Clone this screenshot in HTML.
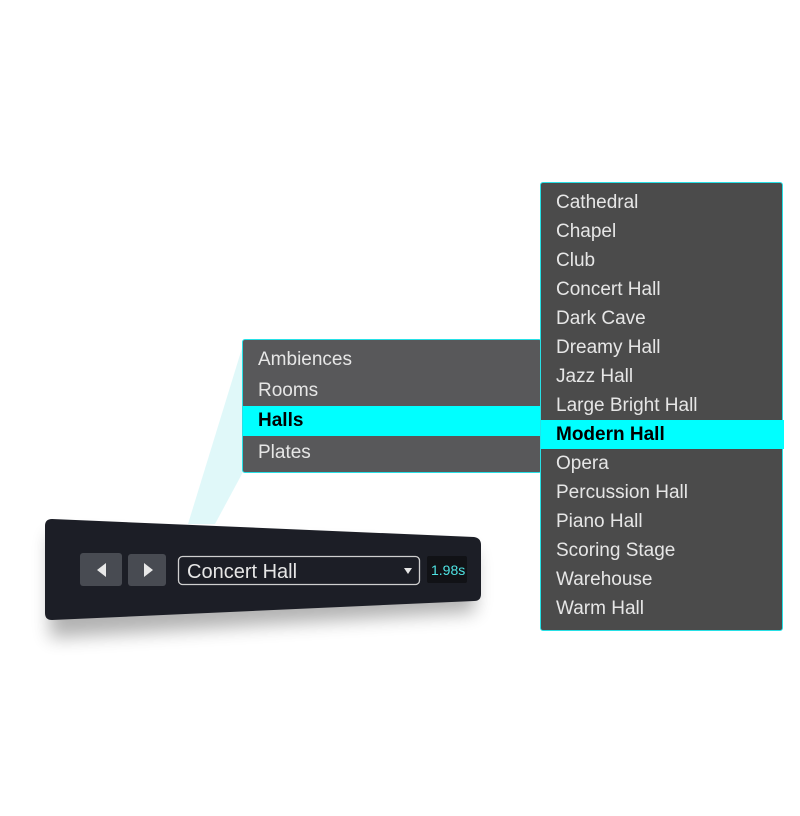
<!DOCTYPE html>
<html><head><style>
body{margin:0;width:800px;height:816px;background:#fff;position:relative;overflow:hidden;font-family:"Liberation Sans",sans-serif}
.m{position:absolute;background:#58585a;border:1.5px solid #27e0e6;border-radius:3px;box-sizing:border-box}
.r{position:absolute;left:0;right:0;color:#e6e6e6;font-size:19px;padding-left:15px;box-sizing:border-box}
.h{background:#00ffff;color:#000;font-weight:bold}
</style></head><body>
<svg width="800" height="816" style="position:absolute;left:0;top:0">
<defs><filter id="s" x="-20%" y="-30%" width="140%" height="180%"><feGaussianBlur stdDeviation="9"/></filter></defs>
<polygon points="243,345 243,472 215,524 188,524" fill="#d8f6f8" opacity="0.8"/>
<path d="M50,535 L475,552 L475,612 L50,638 Z" fill="#000" opacity="0.3" filter="url(#s)"/>
<path d="M52,519 L474,537 Q481,538 481,545 L481,594 Q481,601 474,601 L52,620 Q45,620 45,613 L45,526 Q45,519 52,519 Z" fill="#1c1e26"/>
<rect x="80" y="553" width="42" height="33" rx="3" fill="#484b52"/>
<rect x="128" y="554" width="38" height="32" rx="3" fill="#484b52"/>
<polygon points="106,563 106,577 97,570" fill="#e8e8e8"/>
<polygon points="144,563 144,577 153,570" fill="#e8e8e8"/>
<rect x="178.5" y="556.5" width="241" height="28" rx="4" fill="none" stroke="#cfcfcf" stroke-width="1.3"/>
<text x="187" y="578" font-size="20" fill="#e6e6e6" font-family="Liberation Sans">Concert Hall</text>
<polygon points="404,568 412,568 408,574" fill="#e6e6e6"/>
<rect x="427" y="556" width="40" height="27" rx="2" fill="#111216"/>
<text x="431" y="575" font-size="14" fill="#4fe3e3" font-family="Liberation Sans">1.98s</text>
</svg>
<div class="m" style="left:242px;top:339px;width:300px;height:134px;background:#58585a">
<div class="r" style="top:5px;height:30px;line-height:30px">Ambiences</div>
<div class="r" style="top:36px;height:30px;line-height:30px">Rooms</div>
<div class="r h" style="top:66px;height:30px;line-height:30px">Halls</div>
<div class="r" style="top:98px;height:30px;line-height:30px">Plates</div>
</div>
<div class="m" style="left:540px;top:182px;width:243px;height:449px;background:#4b4b4b">
<div class="r" style="top:5px;height:29px;line-height:29px">Cathedral</div>
<div class="r" style="top:34px;height:29px;line-height:29px">Chapel</div>
<div class="r" style="top:63px;height:29px;line-height:29px">Club</div>
<div class="r" style="top:92px;height:29px;line-height:29px">Concert Hall</div>
<div class="r" style="top:121px;height:29px;line-height:29px">Dark Cave</div>
<div class="r" style="top:150px;height:29px;line-height:29px">Dreamy Hall</div>
<div class="r" style="top:179px;height:29px;line-height:29px">Jazz Hall</div>
<div class="r" style="top:208px;height:29px;line-height:29px">Large Bright Hall</div>
<div class="r h" style="top:237px;height:29px;line-height:29px;right:-2px">Modern Hall</div>
<div class="r" style="top:266px;height:29px;line-height:29px">Opera</div>
<div class="r" style="top:295px;height:29px;line-height:29px">Percussion Hall</div>
<div class="r" style="top:324px;height:29px;line-height:29px">Piano Hall</div>
<div class="r" style="top:353px;height:29px;line-height:29px">Scoring Stage</div>
<div class="r" style="top:382px;height:29px;line-height:29px">Warehouse</div>
<div class="r" style="top:411px;height:29px;line-height:29px">Warm Hall</div>
</div>
</body></html>
